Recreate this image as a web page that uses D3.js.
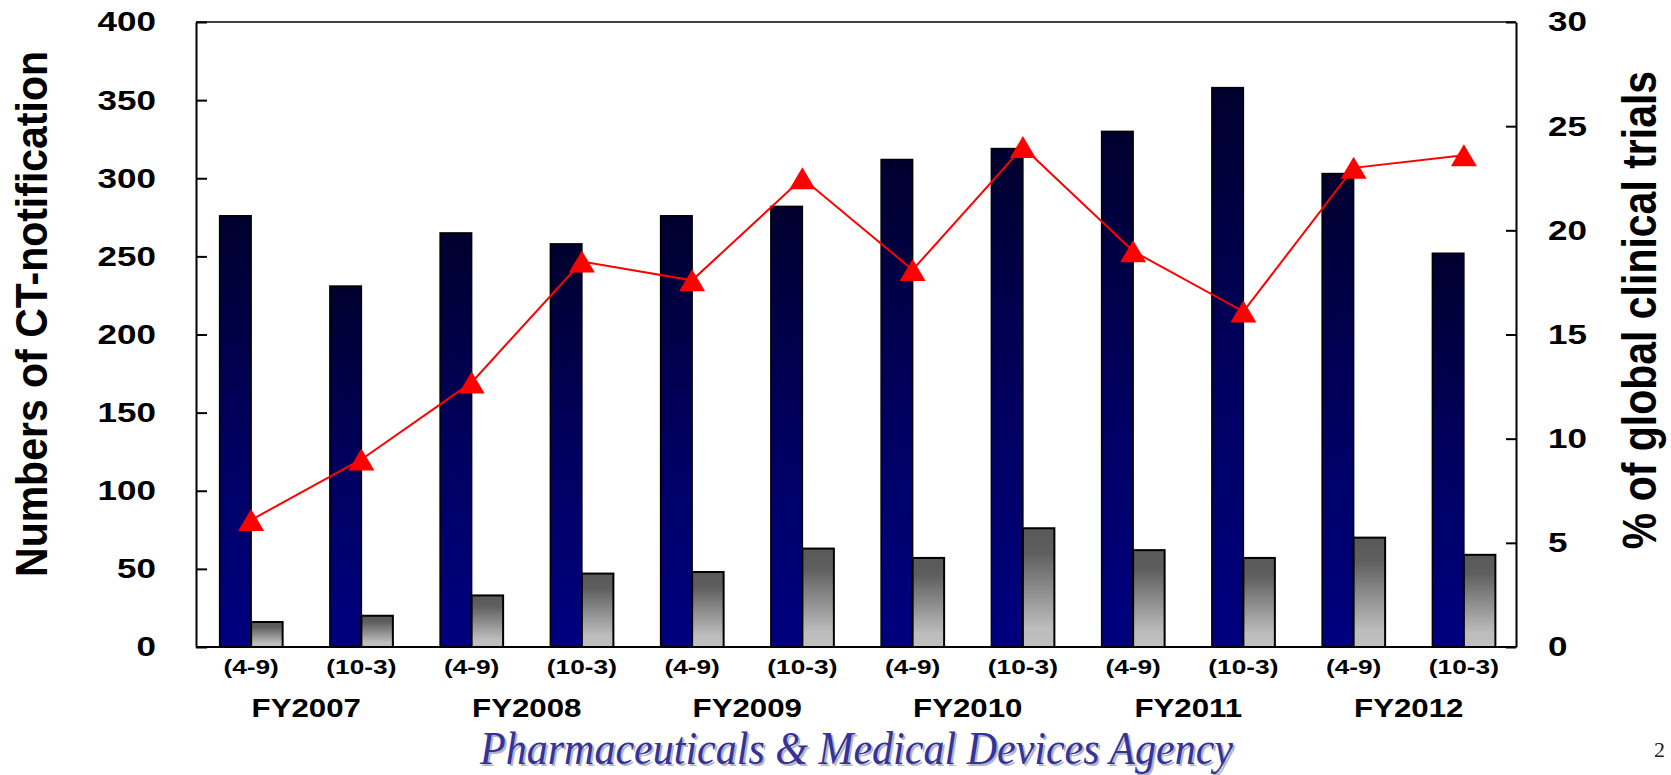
<!DOCTYPE html>
<html>
<head>
<meta charset="utf-8">
<script src="https://cdn.jsdelivr.net/npm/d3@7"></script>
<style>
  body { margin: 0; background: #fff; }
  svg { display: block; }
</style>
</head>
<body>
<script>
// data
const fiscalYears = ["FY2007", "FY2008", "FY2009", "FY2010", "FY2011", "FY2012"];
const halves = ["(4-9)", "(10-3)"];
const periods = fiscalYears.flatMap(fy => halves.map(h => fy + " " + h));
const ctNotifications = [276, 231, 265, 258, 276, 282, 312, 319, 330, 358, 303, 252];
const globalTrials = [16, 20, 33, 47, 48, 63, 57, 76, 62, 57, 70, 59];
const globalPct = [6.1, 9.0, 12.7, 18.5, 17.6, 22.5, 18.1, 24.0, 19.0, 16.1, 23.0, 23.6];
const leftTicks = [0, 50, 100, 150, 200, 250, 300, 350, 400];
const rightTicks = [0, 5, 10, 15, 20, 25, 30];

const W = 1671, H = 775;
const plot = { left: 196, right: 1516, top: 22, bottom: 647 };
const stretch = "scale(1.25,1)";
const sans = "'Liberation Sans', Arial, sans-serif";

const svg = d3.select('body').append('svg')
    .attr('width', W)
    .attr('height', H);

const defs = svg.append('defs');
const navy = defs.append('linearGradient').attr('id', 'navyGrad')
    .attr('x1', 0).attr('y1', 0).attr('x2', 0).attr('y2', 1);
navy.append('stop').attr('offset', '0%').attr('stop-color', '#00002e');
navy.append('stop').attr('offset', '55%').attr('stop-color', '#000062');
navy.append('stop').attr('offset', '100%').attr('stop-color', '#000080');

const grey = defs.append('linearGradient').attr('id', 'greyGrad')
    .attr('x1', 0).attr('y1', 0).attr('x2', 0).attr('y2', 1);
grey.append('stop').attr('offset', '0%').attr('stop-color', '#595959');
grey.append('stop').attr('offset', '20%').attr('stop-color', '#5e5e5e');
grey.append('stop').attr('offset', '85%').attr('stop-color', '#bdbdbd');
grey.append('stop').attr('offset', '100%').attr('stop-color', '#c0c0c0');

// scales
const x = d3.scaleBand()
    .domain(periods)
    .range([plot.left, 1519])
    .paddingInner(0)
    .paddingOuter(0);

const yL = d3.scaleLinear().domain([0, 400]).range([plot.bottom, plot.top]);
const yR = d3.scaleLinear().domain([0, 30]).range([plot.bottom, plot.top]);

const barW = 31.5;

// bars
svg.selectAll('rect.ct')
    .data(ctNotifications)
    .enter()
  .append('rect')
    .attr('class', 'ct')
    .attr('x', (d, i) => x(periods[i]) + x.bandwidth() / 2 - barW)
    .attr('y', d => yL(d))
    .attr('width', barW)
    .attr('height', d => yL(0) - yL(d))
    .attr('fill', 'url(#navyGrad)')
    .attr('stroke', '#000')
    .attr('stroke-width', 1.5);

svg.selectAll('rect.global')
    .data(globalTrials)
    .enter()
  .append('rect')
    .attr('class', 'global')
    .attr('x', (d, i) => x(periods[i]) + x.bandwidth() / 2)
    .attr('y', d => yL(d))
    .attr('width', barW)
    .attr('height', d => yL(0) - yL(d))
    .attr('fill', 'url(#greyGrad)')
    .attr('stroke', '#000')
    .attr('stroke-width', 2);

// frame
svg.append('line')
    .attr('x1', plot.left).attr('x2', plot.right)
    .attr('y1', yL(400)).attr('y2', yL(400))
    .attr('stroke', '#000').attr('stroke-width', 1.5);
svg.append('line')
    .attr('x1', plot.left).attr('x2', plot.right)
    .attr('y1', yL(0)).attr('y2', yL(0))
    .attr('stroke', '#000').attr('stroke-width', 2);

// left axis
const gL = svg.append('g')
    .attr('transform', `translate(${plot.left},0)`)
    .call(d3.axisLeft(yL).tickValues(leftTicks).tickSizeInner(-11).tickSizeOuter(0).tickPadding(32));
gL.select('.domain').attr('stroke-width', 2);
gL.selectAll('.tick line').attr('stroke-width', 2);
gL.selectAll('text')
    .attr('transform', stretch)
    .attr('font-family', sans)
    .attr('font-weight', 'bold')
    .attr('font-size', 28)
    .attr('fill', '#000');

// right axis
const gR = svg.append('g')
    .attr('transform', `translate(${plot.right},0)`)
    .call(d3.axisRight(yR).tickValues(rightTicks).tickSizeInner(-10).tickSizeOuter(0).tickPadding(25.6));
gR.select('.domain').attr('stroke-width', 2);
gR.selectAll('.tick line').attr('stroke-width', 2);
gR.selectAll('text')
    .attr('transform', stretch)
    .attr('font-family', sans)
    .attr('font-weight', 'bold')
    .attr('font-size', 28)
    .attr('fill', '#000');

// bottom axis: half-year labels
const gB = svg.append('g')
    .attr('transform', `translate(0,${plot.bottom})`)
    .call(d3.axisBottom(x).tickSize(0).tickPadding(0).tickFormat(d => d.split(' ')[1]));
gB.select('.domain').remove();
gB.selectAll('text')
    .attr('y', 27)
    .attr('dy', 0)
    .attr('transform', stretch)
    .attr('font-family', sans)
    .attr('font-weight', 'bold')
    .attr('font-size', 21)
    .attr('fill', '#000');

// fiscal year labels, centred under each pair
svg.selectAll('text.fy')
    .data(fiscalYears)
    .enter()
  .append('text')
    .attr('class', 'fy')
    .attr('transform', (d, i) => {
        const cx = (x(periods[2 * i]) + x(periods[2 * i + 1]) + x.bandwidth()) / 2;
        return `translate(${cx},717) ${stretch}`;
    })
    .attr('text-anchor', 'middle')
    .attr('font-family', sans)
    .attr('font-weight', 'bold')
    .attr('font-size', 25)
    .text(d => d);

// percentage line
const line = d3.line()
    .x((d, i) => x(periods[i]) + x.bandwidth() / 2)
    .y(d => yR(d));

svg.append('path')
    .datum(globalPct)
    .attr('d', line)
    .attr('fill', 'none')
    .attr('stroke', '#ff0000')
    .attr('stroke-width', 2);

svg.selectAll('path.marker')
    .data(globalPct)
    .enter()
  .append('path')
    .attr('class', 'marker')
    .attr('d', 'M0,-11L13,11L-13,11Z')
    .attr('transform', (d, i) => `translate(${x(periods[i]) + x.bandwidth() / 2},${yR(d)})`)
    .attr('fill', '#ff0000');

// axis titles
svg.append('text')
    .attr('transform', 'translate(47,314) rotate(-90) scale(1,1.1)')
    .attr('text-anchor', 'middle')
    .attr('font-family', sans)
    .attr('font-weight', 'bold')
    .attr('font-size', 41)
    .text('Numbers of CT-notification');

svg.append('text')
    .attr('transform', 'translate(1656,310) rotate(-90) scale(1,1.15)')
    .attr('text-anchor', 'middle')
    .attr('font-family', sans)
    .attr('font-weight', 'bold')
    .attr('font-size', 41)
    .text('% of global clinical trials');

// footer
const footer = 'Pharmaceuticals & Medical Devices Agency';
svg.append('text')
    .attr('x', 482).attr('y', 766)
    .attr('textLength', 753)
    .attr('lengthAdjust', 'spacingAndGlyphs')
    .attr('font-family', "'Liberation Serif', 'Times New Roman', serif")
    .attr('font-style', 'italic')
    .attr('font-size', 46)
    .attr('fill', '#b4b4c4')
    .text(footer);
svg.append('text')
    .attr('x', 480).attr('y', 764)
    .attr('textLength', 753)
    .attr('lengthAdjust', 'spacingAndGlyphs')
    .attr('font-family', "'Liberation Serif', 'Times New Roman', serif")
    .attr('font-style', 'italic')
    .attr('font-size', 46)
    .attr('fill', '#333399')
    .text(footer);

// slide number
svg.append('text')
    .attr('x', 1654).attr('y', 757)
    .attr('font-family', "'Liberation Serif', serif")
    .attr('font-size', 22)
    .attr('fill', '#222')
    .text('2');
</script>
</body>
</html>
